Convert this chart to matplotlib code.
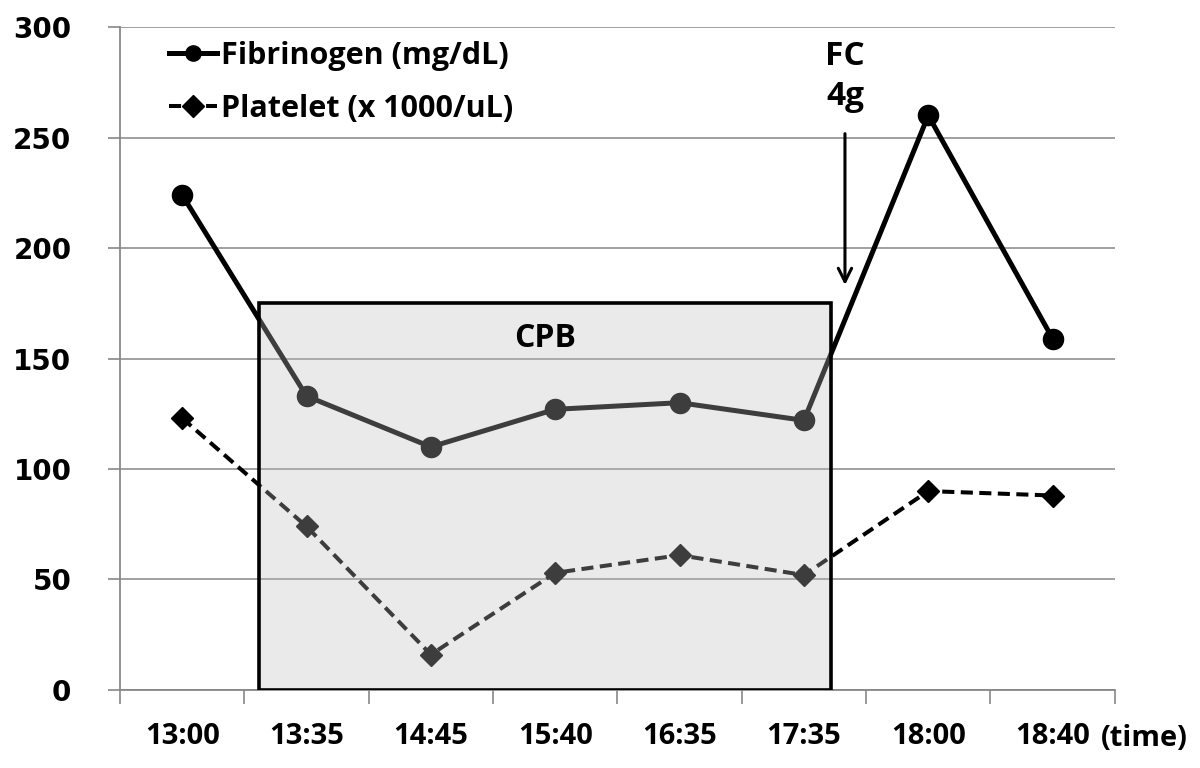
import matplotlib
matplotlib.use("Agg")
import matplotlib.pyplot as plt
from matplotlib.patches import Rectangle

times = ["13:00", "13:35", "14:45", "15:40", "16:35", "17:35", "18:00", "18:40"]
fibrinogen = [224, 133, 110, 127, 130, 122, 260, 159]
platelet = [123, 74, 16, 53, 61, 52, 90, 88]
yticks = [0, 50, 100, 150, 200, 250, 300]

fig = plt.figure(figsize=(12, 7.68), dpi=100)
ax = fig.add_axes([0.1, 0.1016, 0.829, 0.8632])
x = list(range(len(times)))

ax.plot(x, fibrinogen, color="black", lw=3.6, marker="o", markersize=14.5,
        label="Fibrinogen (mg/dL)", zorder=3)
ax.plot(x, platelet, color="black", lw=2.9, ls=(0, (3, 1.6)), marker="D",
        markersize=11.5, label="Platelet (x 1000/uL)", zorder=3)

# CPB box (semi-transparent overlay)
ax.add_patch(Rectangle((0.62, 0), 4.6, 175, facecolor="#bfbfbf", alpha=0.32,
                       edgecolor="none", zorder=4))
ax.add_patch(Rectangle((0.62, 0), 4.6, 175, facecolor="none",
                       edgecolor="black", lw=2.6, zorder=5))
ax.text(2.92, 155, "CPB", ha="center", va="baseline", fontsize=23,
        fontweight="bold", family="Open Sans", zorder=6)

# FC annotation
ax.text(5.33, 282.8, "FC", ha="center", va="baseline", fontsize=24,
        fontweight="bold", family="Open Sans")
ax.text(5.33, 264.7, "4g", ha="center", va="baseline", fontsize=24,
        fontweight="bold", family="Open Sans")
ax.annotate("", xy=(5.33, 182), xytext=(5.33, 253),
            arrowprops=dict(arrowstyle="->", color="black", lw=2.2,
                            mutation_scale=24))

ax.set_xlim(-0.5, 7.5)
ax.set_ylim(0, 300)
ax.set_yticks(yticks)
ax.set_yticklabels([str(v) for v in yticks], fontsize=20, fontweight="bold",
                   family="DejaVu Sans")
ax.set_xticks(x)
ax.set_xticklabels(times, fontsize=21, fontweight="bold", family="Open Sans")
ax.set_xticks([i - 0.5 for i in range(len(times) + 1)], minor=True)
ax.tick_params(axis="x", which="major", length=0, pad=23)
ax.tick_params(axis="x", which="minor", length=10, width=1.2, color="#888888",
               direction="out")
ax.tick_params(axis="y", length=9, width=1.2, color="#888888", pad=26)

ax.grid(axis="y", color="#999999", lw=1.3, zorder=0)
ax.set_axisbelow(True)
for s in ["top", "right"]:
    ax.spines[s].set_visible(False)
for s in ["left", "bottom"]:
    ax.spines[s].set_color("#888888")
    ax.spines[s].set_linewidth(1.3)

ax.text(0.986, -0.0845, "(time)", transform=ax.transAxes, ha="left",
        va="baseline", fontsize=21, fontweight="bold", family="Open Sans")

leg = ax.legend(loc="upper left", bbox_to_anchor=(0.035, 1.0), frameon=False,
                prop=dict(family="Open Sans", weight="bold", size=22),
                handlelength=1.6, handletextpad=0.1, labelspacing=0.75,
                borderaxespad=0.05)
for h in leg.legend_handles:
    h.set_markersize(11)

fig.savefig("out.png", dpi=100)
